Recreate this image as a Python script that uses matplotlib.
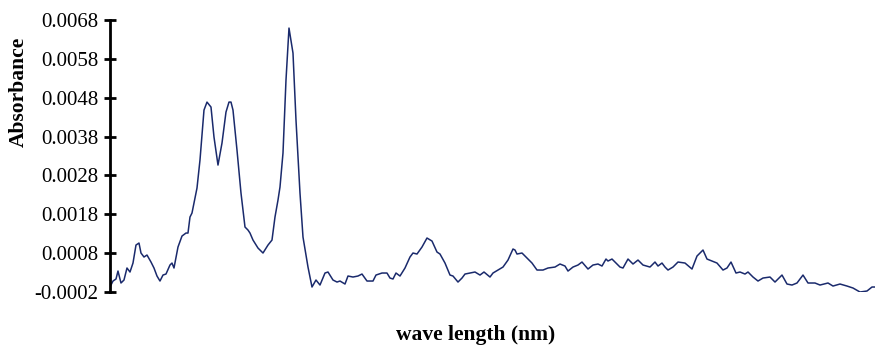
import matplotlib
matplotlib.use("Agg")
import matplotlib.pyplot as plt

# absorbance spectrum (x has no tick labels there)
wavelength = [
    200, 203, 206, 208, 211, 214, 217, 220, 223, 226,
    229, 231, 234, 237, 241, 244, 247, 250, 253, 256,
    260, 262, 264, 268, 272, 276, 278, 280, 282, 287,
    290, 294, 297, 301, 304, 308, 312, 316, 319, 321,
    323, 327, 331, 335, 338, 340, 343, 348, 353, 358,
    362, 365, 368, 370, 373, 376, 379, 383, 386, 390,
    393, 398, 402, 406, 410, 415, 418, 423, 427, 430,
    435, 438, 443, 448, 452, 457, 463, 466, 472, 477,
    480, 483, 486, 490, 495, 500, 503, 507, 512, 517,
    522, 527, 530, 535, 540, 543, 548, 552, 555, 560,
    565, 570, 574, 580, 583, 588, 593, 598, 603, 605,
    607, 612, 617, 622, 627, 633, 638, 645, 650, 655,
    658, 663, 668, 672, 678, 683, 688, 692, 696, 698,
    702, 705, 710, 713, 718, 723, 728, 733, 740, 745,
    748, 752, 755, 758, 763, 768, 775, 782, 787, 790,
    793, 797, 802, 807, 813, 817, 821, 826, 830, 835,
    838, 843, 848, 853, 860, 865, 872, 877, 882, 887,
    893, 898, 905, 910, 918, 923, 930, 937, 943, 950,
    957, 962, 965,
]
absorbance = [
    -0.000071, 0.000083, 0.000135, 0.000340, 0.000032, 0.000109, 0.000418, 0.000315, 0.000546, 0.001009,
    0.001061, 0.000804, 0.000701, 0.000752, 0.000572, 0.000418, 0.000212, 0.000083, 0.000237, 0.000263,
    0.000495, 0.000546, 0.000418, 0.000958, 0.001241, 0.001318, 0.001318, 0.001730, 0.001833, 0.002476,
    0.003197, 0.004483, 0.004689, 0.004561, 0.003789, 0.003068, 0.003634, 0.004432, 0.004689, 0.004689,
    0.004483, 0.003454, 0.002348, 0.001473, 0.001395, 0.001318, 0.001138, 0.000932, 0.000804, 0.001009,
    0.001138, 0.001730, 0.002167, 0.002502, 0.003377, 0.005255, 0.006594, 0.005950, 0.004226, 0.002348,
    0.001215, 0.000443, -0.000071, 0.000109, -0.000020, 0.000289, 0.000315, 0.000109, 0.000057, 0.000083,
    0.000006, 0.000212, 0.000186, 0.000212, 0.000263, 0.000083, 0.000083, 0.000237, 0.000289, 0.000289,
    0.000160, 0.000135, 0.000289, 0.000212, 0.000418, 0.000701, 0.000804, 0.000778, 0.000958, 0.001190,
    0.001112, 0.000829, 0.000778, 0.000546, 0.000237, 0.000212, 0.000057, 0.000160, 0.000263, 0.000289,
    0.000315, 0.000237, 0.000315, 0.000186, 0.000289, 0.000366, 0.000443, 0.000623, 0.000907, 0.000881,
    0.000778, 0.000804, 0.000675, 0.000546, 0.000366, 0.000366, 0.000418, 0.000443, 0.000521, 0.000469,
    0.000340, 0.000443, 0.000495, 0.000572, 0.000392, 0.000495, 0.000521, 0.000469, 0.000649, 0.000598,
    0.000649, 0.000572, 0.000443, 0.000418, 0.000649, 0.000521, 0.000623, 0.000495, 0.000443, 0.000572,
    0.000469, 0.000546, 0.000443, 0.000366, 0.000443, 0.000572, 0.000546, 0.000392, 0.000726, 0.000804,
    0.000881, 0.000649, 0.000598, 0.000546, 0.000366, 0.000418, 0.000572, 0.000289, 0.000315, 0.000263,
    0.000315, 0.000186, 0.000083, 0.000160, 0.000186, 0.000057, 0.000237, 0.000006, -0.000020, 0.000032,
    0.000237, 0.000032, 0.000032, -0.000020, 0.000032, -0.000046, 0.000006, -0.000046, -0.000097, -0.000200,
    -0.000174, -0.000071, -0.000071,
]
yticks = [-0.0002, 0.0008, 0.0018, 0.0028, 0.0038, 0.0048, 0.0058, 0.0068]
ytick_labels = ["-0.0002", "0.0008", "0.0018", "0.0028", "0.0038", "0.0048", "0.0058", "0.0068"]

plt.rcParams["font.family"] = ["Liberation Serif", "DejaVu Serif"]

fig = plt.figure(figsize=(8.75, 3.46), dpi=100)
ax = fig.add_axes([0.1257, 0.156, 0.8743, 0.786])

ax.plot(wavelength, absorbance, color="#1a2a6c", linewidth=1.1)

ax.set_xlim(200, 965)
ax.set_ylim(-0.0002, 0.0068)
ax.set_yticks(yticks)
ax.set_yticklabels(ytick_labels, fontsize=15)
ax.set_xticks([])

for s in ["top", "right", "bottom"]:
    ax.spines[s].set_visible(False)
ax.spines["left"].set_linewidth(2)
ax.tick_params(axis="y", direction="inout", length=9, width=2, pad=4)

ax.set_ylabel("Absorbance", fontsize=15.5, fontweight="bold")
ax.yaxis.set_label_coords(-0.106, 0.735)
fig.text(0.543, 0.032, "wave length (nm)", fontsize=15.5, fontweight="bold",
         ha="center", va="center")

fig.savefig("out.png", dpi=100)
